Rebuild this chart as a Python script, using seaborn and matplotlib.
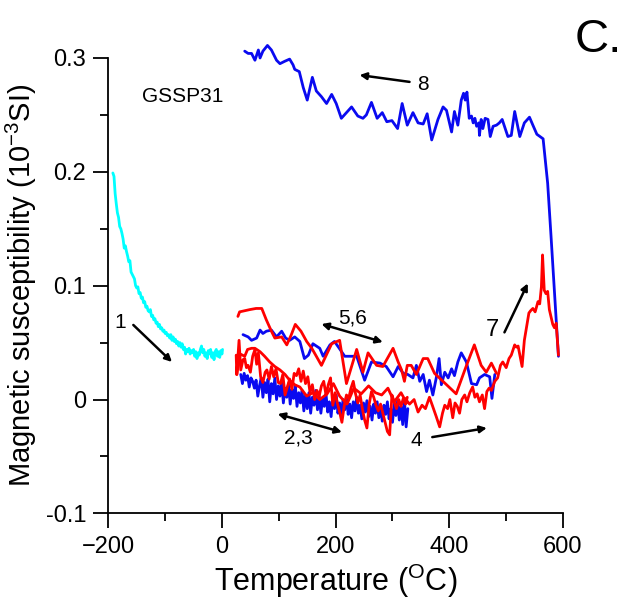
import matplotlib
matplotlib.use("Agg")
import matplotlib.pyplot as plt
import seaborn as sns
import pandas as pd

# curve 1: cooling to -192 C and warming back (cyan)
t_cyan = [-192, -190, -188, -186, -184, -182, -180, -178, -176, -174, -172, -170, -168, -166,
          -164, -162, -160, -158, -156, -154, -152, -150, -148, -146, -144, -142, -140, -138,
          -136, -134, -132, -130, -128, -126, -124, -122, -120, -118, -116, -114, -112, -110,
          -108, -106, -104, -102, -100, -98, -96, -94, -92, -90, -88, -86, -84, -82, -80, -78,
          -76, -74, -72, -70, -68, -66, -64, -62, -60, -58, -56, -54, -52, -50, -48, -46, -44,
          -42, -40, -38, -36, -34, -32, -30, -28, -26, -24, -22, -20, -18, -16, -14, -12, -10,
          -8, -6, -4, -2, 0, 1]
k_cyan = [0.199, 0.196, 0.181, 0.172, 0.164, 0.160, 0.152, 0.150, 0.146, 0.141, 0.133, 0.135,
          0.130, 0.126, 0.121, 0.122, 0.112, 0.110, 0.108, 0.106, 0.100, 0.098, 0.099, 0.093,
          0.094, 0.089, 0.090, 0.085, 0.086, 0.081, 0.082, 0.078, 0.077, 0.079, 0.073, 0.074,
          0.070, 0.071, 0.067, 0.068, 0.064, 0.066, 0.062, 0.063, 0.060, 0.061, 0.058, 0.059,
          0.056, 0.057, 0.054, 0.057, 0.052, 0.055, 0.051, 0.053, 0.049, 0.051, 0.047, 0.050,
          0.046, 0.049, 0.044, 0.046, 0.040, 0.044, 0.042, 0.045, 0.040, 0.043, 0.041, 0.044,
          0.038, 0.042, 0.036, 0.041, 0.039, 0.044, 0.047, 0.041, 0.044, 0.038, 0.041, 0.036,
          0.043, 0.040, 0.044, 0.037, 0.041, 0.035, 0.042, 0.044, 0.038, 0.042, 0.037, 0.043,
          0.040, 0.044]

# curve 2: heating to 330 C (red, lower)
t_red2 = [25, 26, 30, 33, 37, 40, 43, 46, 50, 54, 58, 61, 64, 68, 72, 76, 79, 83, 87, 91, 95,
          99, 103, 107, 111, 115, 119, 123, 127, 131, 135, 139, 143, 147, 151, 155, 159, 163,
          167, 171, 175, 179, 183, 187, 191, 195, 199, 203, 207, 211, 215, 219, 223, 227, 231,
          235, 239, 243, 247, 251, 255, 259, 263, 267, 271, 275, 279, 283, 287, 291, 295, 299,
          303, 307, 311, 315, 319, 323, 326]
k_red2 = [0.039, 0.022, 0.052, 0.026, 0.035, 0.036, 0.028, 0.030, 0.024, 0.038, 0.044, 0.031,
          0.041, 0.020, 0.015, 0.024, 0.026, 0.018, 0.029, 0.020, 0.027, 0.015, 0.014, 0.022,
          0.004, 0.011, 0.018, 0.009, 0.023, 0.021, 0.027, 0.016, 0.025, 0.014, 0.020, 0.006,
          0.013, 0.000, 0.008, 0.003, 0.012, 0.016, 0.004, 0.013, 0.019, -0.005, 0.006, -0.003,
          -0.011, -0.020, -0.006, 0.004, 0.001, 0.010, 0.016, 0.005, -0.003, 0.004, -0.008,
          -0.018, -0.025, -0.004, 0.007, 0.002, -0.005, -0.010, -0.004, -0.012, -0.020, -0.028,
          -0.031, 0.004, -0.002, -0.008, 0.000, -0.006, 0.001, -0.004, 0.002]

# curve 3: cooling from 330 C (blue, lower)
t_blue3 = [33, 36, 39, 42, 45, 48, 51, 54, 57, 60, 63, 66, 69, 72, 75, 78, 81, 84, 87, 90, 93,
           96, 99, 102, 105, 108, 111, 114, 117, 120, 123, 126, 129, 132, 135, 138, 141, 144,
           147, 150, 153, 156, 159, 162, 165, 168, 171, 174, 177, 180, 183, 186, 189, 192, 195,
           198, 201, 204, 207, 210, 213, 216, 219, 222, 225, 228, 231, 234, 237, 240, 243, 246,
           249, 252, 255, 258, 261, 264, 267, 270, 273, 276, 279, 282, 285, 288, 291, 294, 297,
           300, 303, 306, 309, 312, 315, 318, 321, 324, 327]
k_blue3 = [0.022, 0.014, 0.023, 0.017, 0.021, 0.011, 0.019, 0.016, 0.010, 0.017, 0.003, 0.012,
           0.019, 0.002, 0.015, 0.006, 0.018, -0.002, 0.014, 0.005, 0.019, 0.000, 0.012, 0.003,
           0.016, -0.003, 0.010, 0.002, 0.014, -0.004, 0.009, 0.001, 0.012, -0.006, 0.006,
           -0.003, 0.008, -0.010, 0.004, -0.008, 0.006, -0.012, 0.002, -0.005, 0.008, -0.009,
           0.003, -0.012, 0.001, -0.006, 0.005, -0.011, -0.002, -0.015, 0.002, -0.008, 0.004,
           -0.012, -0.003, -0.014, 0.000, -0.009, 0.003, -0.013, -0.004, -0.016, -0.002, -0.010,
           0.002, -0.012, -0.005, -0.017, -0.003, -0.011, -0.001, -0.015, -0.006, -0.018,
           -0.004, -0.012, -0.002, -0.016, -0.007, -0.019, -0.005, -0.013, -0.002, -0.017,
           -0.008, -0.020, -0.004, -0.014, -0.001, -0.018, -0.006, -0.022, 0.000, -0.024, -0.008]

# curve 4 + 7: heating from 330 C to 592 C (red)
t_red47 = [322, 330, 338, 345, 352, 358, 365, 370, 377, 383, 388, 392, 397, 401, 406, 410, 414,
           418, 422, 427, 431, 436, 441, 445, 449, 453, 458, 462, 466, 470, 474, 480, 485, 490,
           494, 500, 505, 509, 515, 518, 521, 528, 532, 540, 543, 547, 551, 556, 559, 562, 564,
           567, 570, 573, 576, 582, 585, 588, 592]
k_red47 = [0.001, -0.004, 0.000, -0.011, -0.005, -0.008, 0.002, -0.005, -0.015, -0.024, -0.012,
           -0.005, -0.008, 0.000, -0.016, -0.003, -0.006, -0.012, 0.000, 0.004, -0.002, 0.006,
           0.011, 0.002, 0.005, -0.002, 0.004, -0.008, 0.007, 0.010, 0.008, 0.016, 0.019, 0.030,
           0.033, 0.028, 0.036, 0.039, 0.048, 0.046, 0.047, 0.029, 0.052, 0.076, 0.078, 0.080,
           0.077, 0.086, 0.084, 0.099, 0.127, 0.096, 0.093, 0.095, 0.079, 0.066, 0.063, 0.067,
           0.039]

# curve 5: cooling from 480 C (blue, upper)
t_blue5 = [37, 46, 52, 61, 67, 72, 78, 87, 96, 105, 112, 119, 128, 137, 145, 152, 160, 172, 178,
           190, 198, 216, 237, 251, 263, 278, 289, 301, 310, 319, 327, 336, 342, 348, 354, 360,
           365, 371, 377, 382, 386, 392, 398, 404, 409, 415, 421, 430, 439, 448, 453, 462, 471,
           475, 480]
k_blue5 = [0.057, 0.055, 0.052, 0.054, 0.061, 0.058, 0.060, 0.061, 0.055, 0.060, 0.054, 0.052,
           0.055, 0.051, 0.036, 0.039, 0.049, 0.045, 0.038, 0.048, 0.051, 0.038, 0.038, 0.017,
           0.033, 0.032, 0.029, 0.020, 0.029, 0.023, 0.022, 0.019, 0.030, 0.016, 0.022, 0.007,
           0.017, 0.004, 0.019, 0.036, 0.013, 0.024, 0.019, 0.027, 0.021, 0.033, 0.041, 0.033,
           0.014, 0.013, 0.019, 0.022, 0.020, 0.001, 0.022]

# curve 6: heating to 480 C (red, upper)
t_red6 = [28, 31, 40, 49, 60, 70, 78, 87, 93, 105, 114, 122, 129, 139, 149, 158, 166, 175, 193,
          207, 219, 237, 248, 257, 272, 283, 301, 310, 316, 321, 326, 333, 342, 354, 362, 374,
          393, 412, 428, 444, 456, 465, 474, 483]
k_red6 = [0.073, 0.077, 0.078, 0.079, 0.080, 0.080, 0.070, 0.060, 0.054, 0.055, 0.048, 0.057,
          0.066, 0.060, 0.051, 0.045, 0.038, 0.030, 0.049, 0.052, 0.014, 0.044, 0.024, 0.041,
          0.030, 0.029, 0.045, 0.033, 0.026, 0.016, 0.030, 0.030, 0.022, 0.036, 0.036, 0.023,
          0.014, 0.005, 0.027, 0.048, 0.030, 0.024, 0.032, 0.023]

# red, middle run
t_redm = [26, 32, 40, 45, 52, 58, 67, 75, 84, 93, 102, 111, 119, 128, 137, 149, 160, 172, 185,
          196, 207, 220, 232, 245, 258, 270, 281, 292, 303, 315, 325]
k_redm = [0.022, 0.040, 0.038, 0.044, 0.045, 0.045, 0.042, 0.038, 0.033, 0.029, 0.026, 0.022,
          0.017, 0.013, 0.011, 0.003, 0.006, 0.000, 0.005, 0.014, 0.003, -0.004, 0.010, 0.005,
          0.012, 0.006, 0.004, 0.010, -0.002, 0.006, -0.003]

# curve 8: cooling from 592 C (blue, top)
t_blue8 = [40, 46, 52, 58, 64, 67, 72, 80, 87, 96, 102, 110, 119, 125, 128, 136, 143, 150, 159,
           166, 175, 184, 193, 201, 210, 219, 228, 239, 248, 254, 263, 273, 282, 290, 299, 309,
           317, 326, 336, 345, 354, 361, 369, 380, 389, 395, 404, 409, 415, 421, 425, 428, 431,
           435, 439, 442, 445, 448, 452, 453, 456, 459, 463, 468, 472, 477, 483, 488, 493, 503,
           509, 515, 524, 532, 541, 547, 554, 565, 573, 579, 588, 592]
k_blue8 = [0.306, 0.304, 0.304, 0.298, 0.307, 0.300, 0.306, 0.311, 0.307, 0.298, 0.295, 0.297,
           0.299, 0.294, 0.290, 0.288, 0.274, 0.263, 0.283, 0.271, 0.266, 0.260, 0.268, 0.260,
           0.247, 0.252, 0.257, 0.249, 0.247, 0.250, 0.261, 0.247, 0.252, 0.244, 0.245, 0.238,
           0.260, 0.241, 0.252, 0.243, 0.242, 0.251, 0.228, 0.246, 0.257, 0.254, 0.235, 0.253,
           0.241, 0.263, 0.269, 0.263, 0.270, 0.247, 0.249, 0.243, 0.247, 0.240, 0.243, 0.232,
           0.246, 0.238, 0.247, 0.246, 0.231, 0.240, 0.241, 0.243, 0.246, 0.231, 0.232, 0.253,
           0.231, 0.243, 0.248, 0.241, 0.233, 0.229, 0.190, 0.143, 0.070, 0.038]

CYAN, BLUE, RED = "#00FFFF", "#0A0AF0", "#FF0000"

sns.set_style("ticks")
plt.rcParams['font.family'] = ['Liberation Sans', 'DejaVu Sans']
plt.rcParams['mathtext.default'] = 'regular'
for key in ['text.color', 'axes.labelcolor', 'xtick.color', 'ytick.color', 'axes.edgecolor']:
    plt.rcParams[key] = 'black'

fig = plt.figure(figsize=(6.25, 6.09), dpi=100)
ax = fig.add_axes([0.1733, 0.157, 0.7275, 0.7478])

curves = [
    (t_cyan, k_cyan, CYAN),
    (t_blue8, k_blue8, BLUE),
    (t_blue5, k_blue5, BLUE),
    (t_blue3, k_blue3, BLUE),
    (t_red6, k_red6, RED),
    (t_redm, k_redm, RED),
    (t_red2, k_red2, RED),
    (t_red47, k_red47, RED),
]
for t, k, c in curves:
    df = pd.DataFrame({'T': t, 'k': k})
    sns.lineplot(data=df, x='T', y='k', color=c, lw=2.0, estimator=None, sort=False,
                 ax=ax, clip_on=False)

ax.set_xlim(-200, 600)
ax.set_ylim(-0.1, 0.3)
ax.set_xticks([-200, 0, 200, 400, 600])
ax.set_xticks([-100, 100, 300, 500], minor=True)
ax.set_yticks([-0.1, 0, 0.1, 0.2, 0.3])
ax.set_yticklabels(['-0.1', '0', '0.1', '0.2', '0.3'])
ax.set_yticks([-0.05, 0.05, 0.15, 0.25], minor=True)
ax.tick_params(which='major', direction='out', length=11, width=1.3, labelsize=17, pad=5)
ax.tick_params(which='minor', direction='out', length=5.5, width=1.3)
for s in ['top', 'right']:
    ax.spines[s].set_visible(False)
for s in ['left', 'bottom']:
    ax.spines[s].set_linewidth(1.3)

ax.set_xlabel('Temperature ($^{O}$C)', fontsize=22, labelpad=3)
ax.set_ylabel('Magnetic susceptibility (10$^{-3}$SI)', fontsize=21, labelpad=5)

# annotations
ax.text(-70, 0.266, 'GSSP31', fontsize=15, ha='center', va='center')
fig.text(0.957, 0.934, 'C.', fontsize=34, ha='center', va='center')

arr = dict(arrowstyle='-|>', color='k', lw=1.8, mutation_scale=10, shrinkA=0, shrinkB=0)
arr2 = dict(arrowstyle='<|-|>', color='k', lw=1.8, mutation_scale=10, shrinkA=0, shrinkB=0)
ax.annotate('', xy=(-88, 0.033), xytext=(-156, 0.0655), arrowprops=arr)
ax.text(-179, 0.068, '1', fontsize=15, ha='center', va='center')
ax.annotate('', xy=(283, 0.0505), xytext=(175, 0.0663), arrowprops=arr2)
ax.text(230, 0.0716, '5,6', fontsize=15, ha='center', va='center')
ax.annotate('', xy=(211, -0.0286), xytext=(98, -0.0127), arrowprops=arr2)
ax.text(134, -0.034, '2,3', fontsize=15, ha='center', va='center')
ax.annotate('', xy=(466, -0.025), xytext=(370, -0.033), arrowprops=arr)
ax.text(342, -0.036, '4', fontsize=15, ha='center', va='center')
ax.annotate('', xy=(538, 0.102), xytext=(497, 0.059), arrowprops=arr)
ax.text(475, 0.061, '7', fontsize=17, ha='center', va='center')
ax.annotate('', xy=(242, 0.285), xytext=(330, 0.279), arrowprops=arr)
ax.text(353, 0.277, '8', fontsize=15, ha='center', va='center')

fig.savefig('out.png', dpi=100)
